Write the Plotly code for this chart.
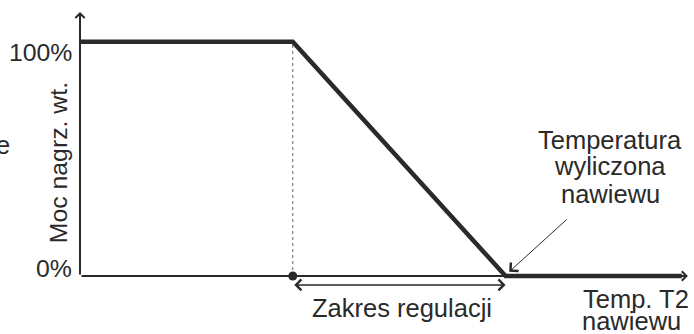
import plotly.graph_objects as go

# heater power vs supply temperature (schematic units)
temp = [0, 35, 70, 99]
power = [100, 100, 0, 0]
knee_t = 35
t2_calc = 70

y_ticks = [100, 0]
y_tick_text = ["100%", "0%"]

INK = "#2a2a2a"
FONT = "Liberation Sans, Arial, sans-serif"
BIG = dict(size=25.5)

fig = go.Figure()

# dotted guide at start of regulation range
fig.add_trace(go.Scatter(
    x=[knee_t, knee_t], y=[0, 100], mode="lines",
    line=dict(color="#666666", width=1, dash="dot"),
    hoverinfo="skip"
))

fig.add_trace(go.Scatter(
    x=temp, y=power, mode="lines",
    line=dict(color=INK, width=4.5),
    hoverinfo="skip"
))

fig.add_trace(go.Scatter(
    x=[knee_t], y=[0], mode="markers",
    marker=dict(color=INK, size=9),
    hoverinfo="skip"
))

ann = []

# axes with arrow heads
ann.append(dict(x=0, y=112.7, ax=0, ay=0, xref="x", yref="y", axref="x", ayref="y",
                showarrow=True, arrowhead=4, arrowsize=0.9, arrowwidth=2, arrowcolor=INK, text=""))
ann.append(dict(x=100, y=0, ax=0, ay=0, xref="x", yref="y", axref="x", ayref="y",
                showarrow=True, arrowhead=4, arrowsize=0.9, arrowwidth=2, arrowcolor=INK, text=""))

# regulation range double arrow
ann.append(dict(x=t2_calc, y=-3.8, ax=knee_t, ay=-3.8, xref="x", yref="y", axref="x", ayref="y",
                showarrow=True, arrowhead=4, startarrowhead=4, arrowside="end+start",
                arrowsize=1.4, startarrowsize=1.4, arrowwidth=1.5, arrowcolor=INK, text=""))

# pointer to calculated temperature
ann.append(dict(x=70.6, y=1.8, ax=80.3, ay=24.7, xref="x", yref="y", axref="x", ayref="y",
                showarrow=True, arrowhead=4, arrowsize=2.2, arrowwidth=1, arrowcolor=INK, text=""))

# tick labels
for v, t in zip(y_ticks, y_tick_text):
    ann.append(dict(x=-1, y=v - 4.6 if v == 100 else v + 3.4, xref="x", yref="y", text=t,
                    showarrow=False, xanchor="right", yanchor="middle", font=dict(size=24.8)))

ann.append(dict(x=-3.6, y=48.2, xref="x", yref="y", text="Moc nagrz. wt.", textangle=-90,
                showarrow=False, xanchor="center", yanchor="middle", font=dict(size=24.8)))

# stray letter cut by the left edge
ann.append(dict(x=-11.2, y=56, xref="x", yref="y", text="e",
                showarrow=False, xanchor="right", yanchor="middle", font=BIG))

for txt, yy in zip(["Temperatura", "wyliczona", "nawiewu"], [58, 46.8, 34.9]):
    ann.append(dict(x=87.2, y=yy, xref="x", yref="y", text=txt,
                    showarrow=False, xanchor="center", yanchor="middle", font=BIG))

ann.append(dict(x=53, y=-13.7, xref="x", yref="y", text="Zakres regulacji",
                showarrow=False, xanchor="center", yanchor="middle", font=BIG))

ann.append(dict(x=91.4, y=-9.7, xref="x", yref="y", text="Temp. T2",
                showarrow=False, xanchor="center", yanchor="middle", font=BIG))
ann.append(dict(x=90.8, y=-19.0, xref="x", yref="y", text="nawiewu",
                showarrow=False, xanchor="center", yanchor="middle", font=BIG))

fig.update_layout(
    width=694, height=334,
    margin=dict(l=0, r=0, t=0, b=0),
    paper_bgcolor="white", plot_bgcolor="white",
    showlegend=False,
    font=dict(family=FONT, size=24, color=INK),
    annotations=ann,
    xaxis=dict(range=[-13.16, 101], visible=False, fixedrange=True),
    yaxis=dict(range=[-24.75, 117.8], visible=False, fixedrange=True),
)

# page body has a default 8px margin; drop it so the figure fills the window
fig.write_html("out.html", config={"displayModeBar": False},
               post_script="document.body.style.margin='0';")
